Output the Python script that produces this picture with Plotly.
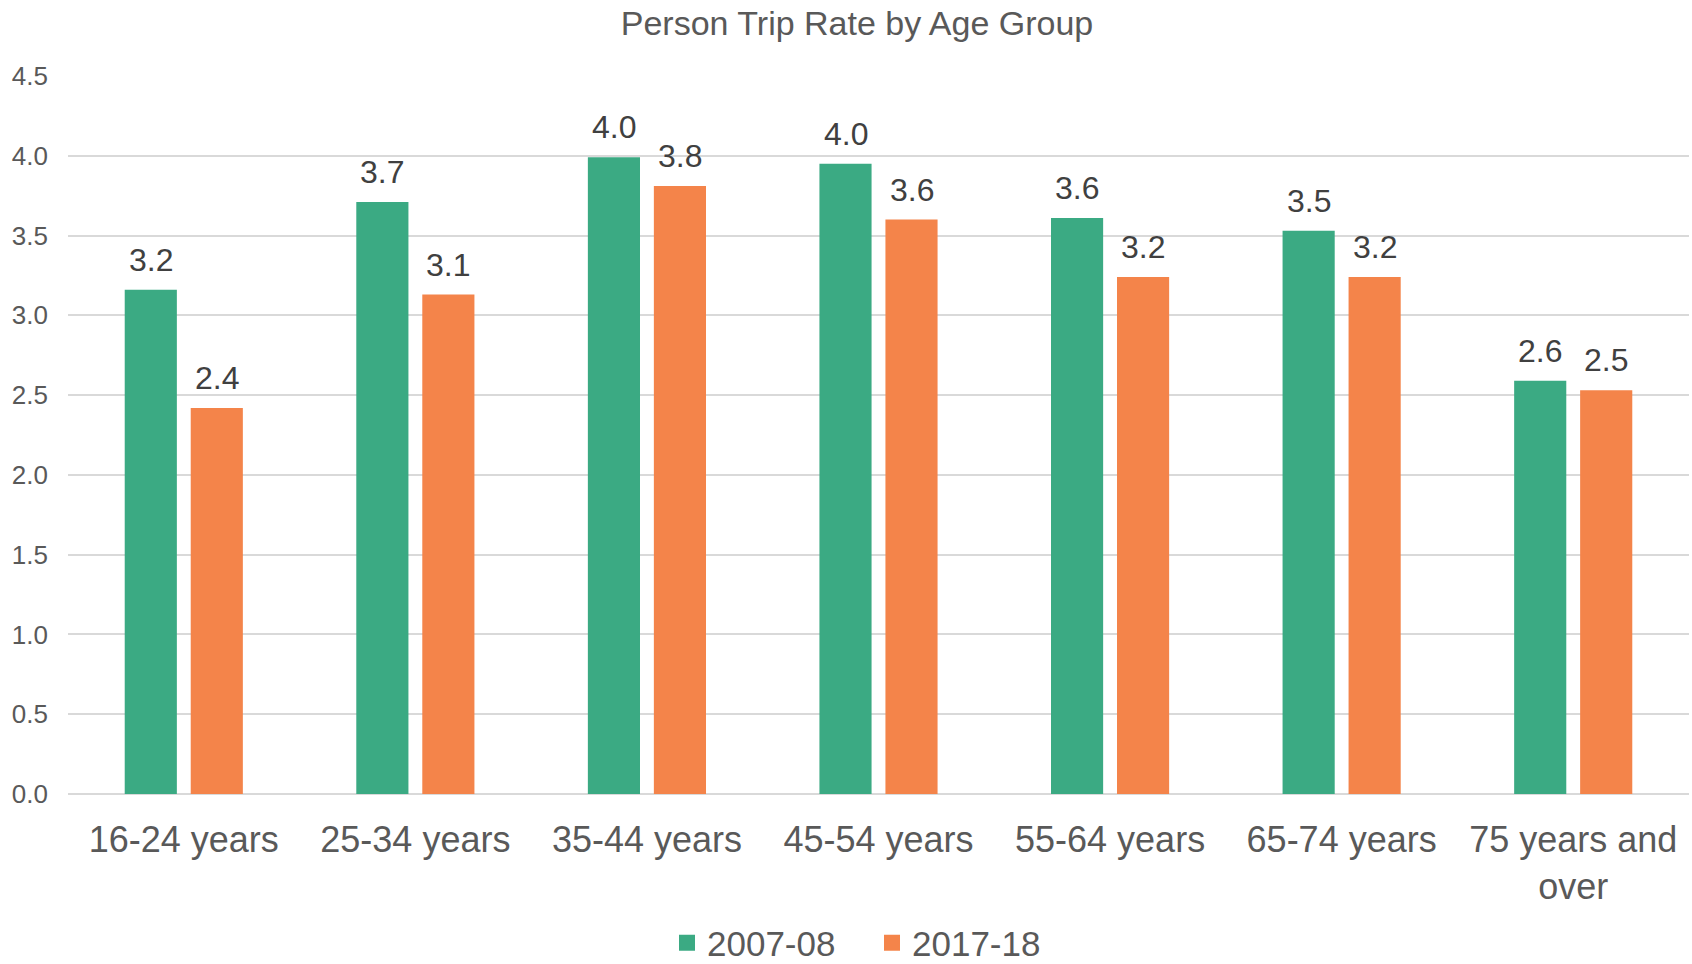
import plotly.graph_objects as go

categories = ["16-24 years", "25-34 years", "35-44 years", "45-54 years",
              "55-64 years", "65-74 years", "75 years and<br>over"]
series_names = ["2007-08", "2017-18"]
values_2007 = [3.16, 3.71, 3.99, 3.95, 3.61, 3.53, 2.59]
values_2017 = [2.42, 3.13, 3.81, 3.60, 3.24, 3.24, 2.53]
y_ticks = [0.0, 0.5, 1.0, 1.5, 2.0, 2.5, 3.0, 3.5, 4.0, 4.5]

colors = ["#3BAA83", "#F4844A"]
font_family = "Liberation Sans, Arial, sans-serif"
series_values = [values_2007, values_2017]
label_shift = [-33, 33]

fig = go.Figure()
for name, vals, col in zip(series_names, series_values, colors):
    fig.add_trace(go.Bar(
        x=categories, y=vals, name=name,
        marker=dict(color=col, line=dict(width=0)),
        showlegend=False,
    ))
# legend entries with larger square symbols
for name, col in zip(series_names, colors):
    fig.add_trace(go.Scatter(
        x=[categories[0]], y=[None], name=name, mode="markers",
        marker=dict(symbol="square", size=18, color=col),
        showlegend=True,
    ))

annotations = []
for vals, dx in zip(series_values, label_shift):
    for cat, v in zip(categories, vals):
        annotations.append(dict(
            x=cat, y=v, xref="x", yref="y", text=f"{v:.1f}",
            showarrow=False, xanchor="center", yanchor="bottom",
            xshift=dx, yshift=10,
            font=dict(size=32, color="#404040", family=font_family),
        ))

fig.update_layout(
    width=1692, height=964,
    barmode="group", bargap=0.43, bargroupgap=0.21,
    plot_bgcolor="white", paper_bgcolor="white",
    margin=dict(l=68, r=3, t=76, b=170, autoexpand=False),
    title=dict(text="Person Trip Rate by Age Group", x=857/1692, xanchor="center",
               y=1 - 23/964, yanchor="middle",
               font=dict(size=34, color="#595959", family=font_family)),
    font=dict(family=font_family, color="#595959"),
    annotations=annotations,
    legend=dict(orientation="h", x=(667-68)/1621, xanchor="left", xref="paper",
                y=-(943-794)/718, yanchor="middle",
                font=dict(size=35, color="#595959", family=font_family),
                itemsizing="trace", traceorder="normal",
                entrywidth=160, entrywidthmode="pixels",
                bgcolor="rgba(0,0,0,0)"),
    showlegend=True,
)
fig.update_yaxes(range=[0, 4.5], tickvals=y_ticks, tickformat=".1f",
                 automargin=False,
                 showgrid=True, gridcolor="#D9D9D9", gridwidth=1.5,
                 zeroline=True, zerolinecolor="#D9D9D9", zerolinewidth=2,
                 showline=False, ticks="", ticklabelstandoff=19,
                 tickfont=dict(size=26, color="#595959", family=font_family))
fig.update_xaxes(showgrid=False, showline=False, ticks="", automargin=False,
                 ticklabelstandoff=21,
                 tickfont=dict(size=36, color="#595959", family=font_family))

fig.write_html("out.html", config={"displayModeBar": False},
               post_script="document.body.style.margin='0';document.body.style.overflow='hidden';")
